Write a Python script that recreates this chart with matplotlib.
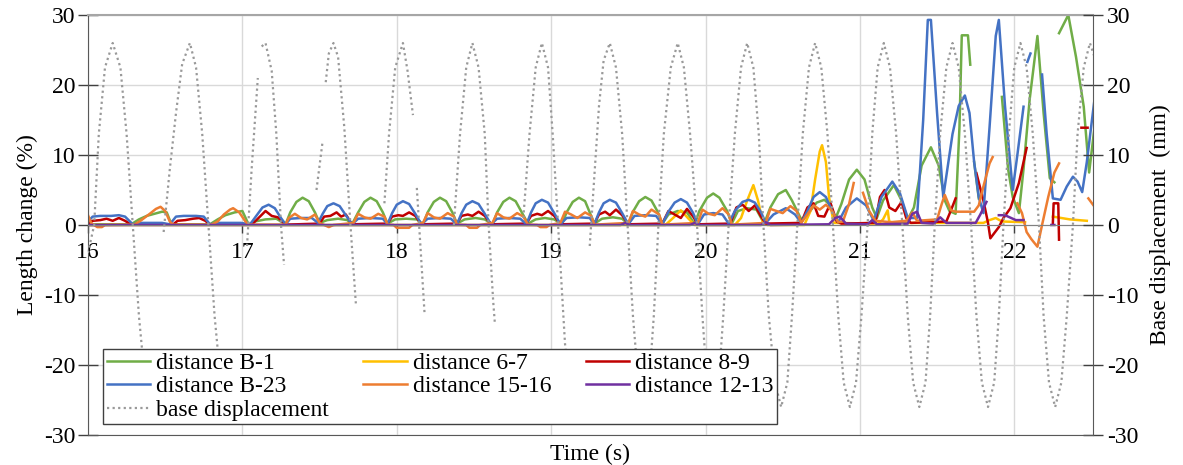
import numpy as np
import matplotlib.pyplot as plt

nan = np.nan

# length change (%) of the measured distances, time in s
b1_t = [
    16.00, 16.28, 16.33, 16.38, 16.43, 16.48, 16.51, 16.54,
    16.79, 16.84, 16.89, 16.95, 17.00, 17.04, 17.08, 17.15, 17.22, 17.28,
    17.31, 17.35, 17.39, 17.43, 17.47, 17.50, 17.55, 17.62, 17.68, 17.71,
    17.75, 17.79, 17.83, 17.87, 17.91, 17.94, 17.99, 18.06, 18.13, 18.17,
    18.20, 18.24, 18.28, 18.32, 18.36, 18.39, 18.44, 18.51, 18.57, 18.62,
    18.65, 18.69, 18.73, 18.77, 18.81, 18.85, 18.90, 18.96, 19.02, 19.07,
    19.10, 19.14, 19.18, 19.22, 19.25, 19.28, 19.33, 19.40, 19.46, 19.50,
    19.53, 19.57, 19.61, 19.65, 19.69, 19.72, 19.76, 19.82, 19.88, 19.93,
    19.96, 20.01, 20.05, 20.09, 20.14, 20.17, 20.21, 20.27, 20.33, 20.38,
    20.42, 20.47, 20.52, 20.56, 20.62, 20.66, 20.72, 20.77, 20.81, 20.84,
    20.88, 20.93, 20.98, 21.03, 21.08, 21.11, 21.15, 21.22, 21.27, 21.31,
    21.35, 21.40, 21.46, 21.51, 21.55, 21.58, 21.62, 21.645, 21.66, 21.70,
    21.715, 21.72, 21.74, 21.77, 21.78, 21.92, 21.96, 21.99, 22.03, 22.06,
    22.10, 22.15, 22.19, 22.23, 22.26, 22.27, 22.29, 22.35, 22.40, 22.45,
    22.485, 22.52]
b1_pct = [
    0.1, 0.1, 0.8, 1.3, 1.6, 1.9, 1.8, 0.1,
    0.1, 0.8, 1.4, 1.8, 2.0, 0.1, 0.5, 0.8, 0.9, 0.1,
    1.8, 3.3, 3.9, 3.4, 1.8, 0.3, 0.7, 0.9, 0.7, 0.1,
    1.8, 3.3, 3.9, 3.4, 1.8, 0.2, 0.8, 0.9, 0.8, 0.1,
    1.8, 3.3, 3.9, 3.4, 1.8, 0.2, 0.8, 1.0, 0.8, 0.1,
    1.8, 3.3, 3.9, 3.4, 1.8, 0.2, 0.8, 1.0, 0.8, 0.1,
    1.8, 3.3, 3.9, 3.4, 1.8, 0.2, 0.9, 1.1, 0.9, 0.1,
    1.9, 3.4, 4.0, 3.5, 1.9, 0.2, 1.5, 2.0, 1.8, 0.1,
    2.0, 3.9, 4.5, 3.9, 2.0, 0.2, 2.0, 2.4, 2.2, 0.2,
    2.5, 4.4, 5.0, 3.5, 0.8, 1.5, 3.2, 3.6, 2.8, 0.8,
    3.0, 6.5, 7.9, 6.5, 2.5, 1.0, 3.5, 5.7, 3.5, 0.8,
    2.5, 8.5, 11.1, 8.5, 3.5, 2.0, 1.6, 14.0, 27.1, 27.1,
    22.9, nan, 9.0, 3.8, nan, 18.3, 8.0, 4.0, 1.7, 8.0,
    18.0, 27.0, 16.0, 6.7, 6.1, nan, 27.4, 30.0, 24.0, 16.9,
    7.5, 14.0]

d67_t = [
    16.00, 19.74, 19.79, 19.84, 19.89, 19.93, 20.19, 20.23, 20.27, 20.31,
    20.34, 20.37, 20.40, 20.64, 20.68, 20.71, 20.74, 20.755, 20.78, 20.80,
    20.83, 21.12, 21.15, 21.18, 21.19, 21.22, 21.80, 21.84, 21.88, 21.92,
    22.07, 22.08, 22.25, 22.36, 22.47]
d67_pct = [
    0.0, 0.0, 1.0, 2.1, 0.9, 0.0, 0.0, 1.0, 3.5, 5.7,
    3.5, 0.5, 0.0, 0.0, 2.0, 6.5, 10.5, 11.4, 9.0, 4.0,
    0.3, 0.2, 0.8, 2.1, 0.5, 0.3, 0.3, 0.7, 1.0, 0.5,
    0.4, nan, 1.2, 0.8, 0.6]

d89_t = [
    16.00, 16.03, 16.08, 16.12, 16.16, 16.20, 16.24, 16.28, 16.55, 16.58,
    16.63, 16.68, 16.72, 16.76, 16.79, 17.06, 17.10, 17.15, 17.19, 17.23,
    17.28, 17.50, 17.53, 17.57, 17.61, 17.64, 17.67, 17.71, 17.94, 17.97,
    18.01, 18.04, 18.08, 18.12, 18.16, 18.39, 18.42, 18.46, 18.49, 18.53,
    18.57, 18.61, 18.84, 18.87, 18.91, 18.94, 18.98, 19.02, 19.06, 19.28,
    19.31, 19.35, 19.38, 19.42, 19.46, 19.50, 19.72, 19.76, 19.80, 19.84,
    19.88, 19.92, 19.95, 20.16, 20.20, 20.24, 20.28, 20.32, 20.36, 20.39,
    20.62, 20.66, 20.70, 20.73, 20.77, 20.81, 20.85, 20.88, 21.10, 21.13,
    21.16, 21.19, 21.23, 21.27, 21.30, 21.33, 21.56, 21.59, 21.62, 21.63,
    21.755, 21.80, 21.83, 21.845, 21.90, 21.93, 21.975, 22.03, 22.08, 22.09,
    22.25, 22.255, 22.285, 22.29, 22.30, 22.435, 22.475]
d89_pct = [
    0.2, 0.6, 0.7, 0.9, 0.6, 1.0, 0.6, 0.05, 0.05, 0.6,
    0.7, 0.9, 1.0, 0.6, 0.05, 0.05, 0.9, 2.0, 1.3, 1.1,
    0.05, 0.2, 1.2, 1.3, 1.8, 1.2, 1.5, 0.1, 0.2, 1.2,
    1.4, 1.3, 1.8, 1.3, 0.1, 0.2, 1.3, 1.5, 1.3, 1.9,
    1.3, 0.1, 0.2, 1.3, 1.6, 1.4, 2.0, 1.3, 0.1, 0.2,
    1.5, 1.9, 1.4, 2.2, 1.4, 0.1, 0.2, 2.0, 1.5, 1.0,
    2.3, 1.2, 0.1, 0.2, 2.5, 2.9, 2.0, 2.8, 1.2, 0.2,
    0.3, 2.5, 3.1, 1.3, 1.2, 3.1, 0.5, 0.2, 0.3, 4.0,
    5.0, 2.5, 2.0, 3.3, 1.0, 0.3, 0.5, 2.1, 3.8, nan,
    7.4, 3.5, 0.3, -1.9, -0.3, 1.0, 2.4, 6.0, 11.0, nan,
    0.3, 3.1, 3.1, -2.1, nan, 13.9, 13.9]

b23_t = [
    16.00, 16.03, 16.08, 16.15, 16.20, 16.24, 16.29, 16.35, 16.48, 16.53,
    16.57, 16.62, 16.70, 16.75, 16.79, 16.85, 16.99, 17.05, 17.09, 17.13,
    17.17, 17.21, 17.25, 17.28, 17.31, 17.38, 17.45, 17.49, 17.52, 17.55,
    17.59, 17.63, 17.67, 17.71, 17.75, 17.83, 17.91, 17.94, 17.97, 18.00,
    18.04, 18.08, 18.12, 18.16, 18.20, 18.28, 18.35, 18.39, 18.42, 18.45,
    18.49, 18.53, 18.57, 18.61, 18.65, 18.73, 18.80, 18.84, 18.87, 18.90,
    18.94, 18.98, 19.02, 19.06, 19.10, 19.18, 19.25, 19.28, 19.31, 19.34,
    19.38, 19.42, 19.46, 19.50, 19.54, 19.61, 19.68, 19.72, 19.76, 19.80,
    19.84, 19.88, 19.92, 19.95, 19.99, 20.05, 20.11, 20.15, 20.19, 20.24,
    20.28, 20.32, 20.36, 20.39, 20.44, 20.52, 20.58, 20.62, 20.66, 20.70,
    20.74, 20.78, 20.82, 20.86, 20.91, 20.98, 21.04, 21.09, 21.14, 21.21,
    21.26, 21.31, 21.37, 21.41, 21.44, 21.46, 21.50, 21.54, 21.56, 21.60,
    21.64, 21.68, 21.71, 21.74, 21.77, 21.80, 21.84, 21.88, 21.90, 21.94,
    21.99, 22.02, 22.06, 22.07, 22.085, 22.105, 22.11, 22.18, 22.21, 22.25,
    22.30, 22.34, 22.38, 22.41, 22.44, 22.47, 22.52]
b23_pct = [
    0.5, 1.2, 1.3, 1.3, 1.4, 1.2, 0.1, 0.3, 0.3, 0.1,
    1.2, 1.3, 1.3, 1.2, 0.1, 0.3, 0.3, 0.1, 1.3, 2.5,
    2.9, 2.4, 1.0, 0.1, 0.9, 1.0, 1.0, 0.3, 1.6, 2.7,
    3.1, 2.7, 1.4, 0.1, 0.9, 1.0, 0.9, 0.1, 1.7, 2.9,
    3.4, 3.0, 1.6, 0.1, 0.9, 1.0, 0.9, 0.1, 1.7, 2.9,
    3.4, 3.0, 1.6, 0.1, 0.9, 1.0, 0.9, 0.1, 1.8, 3.1,
    3.6, 3.2, 1.7, 0.1, 1.0, 1.1, 1.0, 0.1, 1.8, 3.1,
    3.6, 3.2, 1.7, 0.1, 1.3, 1.4, 1.3, 0.1, 1.9, 3.2,
    3.7, 3.2, 1.7, 0.1, 1.5, 1.7, 1.5, 0.2, 2.0, 3.3,
    3.6, 3.2, 1.8, 0.3, 1.5, 2.4, 1.5, 0.3, 2.0, 4.0,
    4.7, 4.0, 2.0, 0.4, 2.5, 3.8, 2.8, 0.6, 4.0, 6.2,
    4.5, 1.0, 1.0, 15.0, 29.3, 29.3, 16.0, 4.0, 7.0, 13.0,
    17.0, 18.5, 16.0, 9.0, 4.0, 1.7, 14.0, 27.0, 29.3, 17.0,
    5.0, 10.0, 16.9, nan, 23.3, 24.5, nan, 21.5, 13.0, 3.8,
    3.6, 5.5, 6.9, 6.2, 4.7, 9.0, 18.0]

d1516_t = [
    16.00, 16.02, 16.04, 16.06, 16.09, 16.11, 16.30, 16.34, 16.40, 16.44,
    16.47, 16.50, 16.53, 16.55, 16.80, 16.84, 16.88, 16.92, 16.94, 16.98,
    17.02, 17.04, 17.28, 17.30, 17.34, 17.38, 17.42, 17.47, 17.50, 17.53,
    17.56, 17.59, 17.72, 17.75, 17.79, 17.83, 17.88, 17.92, 17.94, 17.98,
    18.00, 18.08, 18.10, 18.17, 18.20, 18.24, 18.28, 18.33, 18.37, 18.39,
    18.45, 18.47, 18.52, 18.54, 18.62, 18.65, 18.69, 18.73, 18.78, 18.82,
    18.85, 18.91, 18.93, 18.97, 18.99, 19.06, 19.09, 19.13, 19.17, 19.22,
    19.26, 19.28, 19.50, 19.53, 19.57, 19.61, 19.65, 19.70, 19.72, 19.95,
    19.98, 20.02, 20.06, 20.11, 20.15, 20.17, 20.39, 20.42, 20.46, 20.50,
    20.55, 20.59, 20.62, 20.66, 20.70, 20.74, 20.78, 20.82, 20.86, 20.89,
    20.93, 20.96, 20.99, 21.02, 21.06, 21.10, 21.20, 21.30, 21.34, 21.37,
    21.50, 21.53, 21.55, 21.59, 21.62, 21.74, 21.77, 21.80, 21.84, 21.86,
    21.87, 22.02, 22.05, 22.08, 22.11, 22.15, 22.18, 22.22, 22.26, 22.29,
    22.30, 22.48, 22.52]
d1516_pct = [
    1.4, 0.3, 0.0, -0.3, -0.3, 0.0, 0.05, 0.6, 1.6, 2.3,
    2.6, 2.0, 0.5, 0.05, 0.05, 0.5, 1.5, 2.2, 2.4, 1.8,
    0.5, 0.05, 0.05, 1.0, 1.6, 1.0, 0.8, 1.5, 0.3, 0.0,
    -0.3, 0.0, 0.3, 1.6, 1.1, 0.9, 1.6, 1.2, 0.05, 0.0,
    -0.4, -0.4, 0.0, 0.3, 1.7, 1.1, 0.9, 1.7, 1.2, 0.05,
    0.0, -0.4, -0.4, 0.0, 0.3, 1.7, 1.1, 0.9, 1.7, 1.2,
    0.05, 0.0, -0.3, -0.3, 0.0, 0.3, 1.9, 1.5, 1.0, 1.8,
    1.3, 0.05, 0.3, 2.0, 1.5, 1.2, 2.2, 1.5, 0.05, 0.3,
    2.2, 1.6, 1.4, 2.4, 1.5, 0.05, 0.3, 2.3, 2.0, 1.7,
    2.7, 2.0, 0.3, 1.5, 2.8, 2.2, 2.9, 2.0, 0.4, 0.5,
    3.0, 6.0, nan, 4.6, 2.0, 0.6, 0.4, 0.6, 1.8, 0.6,
    0.8, 3.0, 4.3, 2.1, 1.9, 1.9, 2.8, 5.5, 8.8, 9.7,
    nan, 3.1, 1.7, -1.0, -2.0, -3.1, 0.0, 4.0, 7.5, 8.8,
    nan, 3.8, 2.6]

d1213_t = [
    16.00, 19.45, 19.48, 19.51, 19.90, 19.93, 19.96, 20.36, 20.39, 20.42,
    20.80, 20.84, 20.87, 20.91, 21.05, 21.08, 21.11, 21.31, 21.34, 21.37,
    21.40, 21.48, 21.52, 21.56, 21.75, 21.78, 21.82, 21.83, 21.90, 21.94,
    21.98, 22.01, 22.06, 22.07, 22.24, 22.26]
d1213_pct = [
    0.0, 0.0, 0.3, 0.0, 0.0, 0.3, 0.0, 0.0, 0.4, 0.0,
    0.1, 1.0, 1.2, 0.2, 0.1, 0.7, 0.1, 0.2, 1.6, 1.9,
    0.3, 0.2, 1.1, 0.3, 0.3, 1.5, 3.3, nan, 1.4, 1.4,
    1.0, 0.7, 0.7, nan, 0.0, 0.0]

# base displacement (mm), with the dropouts of the record left as gaps
base_t = [
    16.00, 16.04, 16.07, 16.11, 16.16, 16.21, 16.25, 16.29, 16.33, 16.37, 16.38,
    16.49, 16.53, 16.57, 16.61, 16.66, 16.70, 16.74, 16.78, 16.82, 16.86, 16.87,
    17.03, 17.06, 17.10, 17.11, 17.125, 17.15, 17.19, 17.22, 17.25, 17.27, 17.28,
    17.48, 17.52, 17.53, 17.54, 17.56, 17.59, 17.62, 17.66, 17.70, 17.735, 17.74,
    17.92, 17.95, 17.99, 18.04, 18.07, 18.105, 18.11, 18.13, 18.18, 18.19,
    18.37, 18.41, 18.45, 18.49, 18.53, 18.57, 18.595, 18.625, 18.635, 18.64,
    18.82, 18.86, 18.90, 18.94, 18.98, 19.01, 19.045, 19.09, 19.12, 19.13,
    19.25, 19.28, 19.31, 19.34, 19.38, 19.42, 19.46, 19.495, 19.53, 19.565,
    19.60, 19.635, 19.665, 19.695, 19.73, 19.775, 19.82, 19.86, 19.90, 19.945,
    19.98, 20.01, 20.05, 20.085, 20.115, 20.15, 20.19, 20.23, 20.27, 20.31,
    20.345, 20.375, 20.41, 20.45, 20.49, 20.53, 20.56, 20.595, 20.63, 20.67,
    20.71, 20.75, 20.79, 20.825, 20.86, 20.895, 20.935, 20.975, 21.01, 21.05,
    21.08, 21.115, 21.155, 21.195, 21.235, 21.275, 21.31, 21.345, 21.385, 21.425,
    21.455, 21.485, 21.52, 21.56, 21.60, 21.64, 21.68, 21.72, 21.755, 21.79,
    21.83, 21.87, 21.90, 21.93, 21.965, 22.00, 22.04, 22.08, 22.12, 22.16,
    22.19, 22.225, 22.265, 22.305, 22.34, 22.38, 22.41, 22.45, 22.49, 22.52]
base_mm = [
    -4, 0, 13, 22.5, 26, 22.5, 13, 0, -13, -22.5, nan,
    -1, 8, 16, 23, 26, 22.5, 13, 0, -13, -22.5, nan,
    -3, 8, 21, nan, 25.5, 26, 22, 13, 0, -5.7, nan,
    5, 12, nan, 20.4, 24.5, 26, 24, 14, 0, -11.2, nan,
    3.1, 13, 22.5, 26, 22, 15.7, nan, 5.3, -12.6, nan,
    0, 13, 22.5, 26, 22.5, 13, 0, -11, -13.9, nan,
    1, 13, 22.5, 26, 22.5, 13, 0, -17, -23, nan,
    -3, 7, 17, 23.5, 26, 22.5, 13, 0, -13, -22.5,
    -26, -22.5, -13, 0, 13, 22.5, 26, 22.5, 13, 0,
    -13, -22.5, -26, -22.5, -13, 0, 13, 22.5, 26, 22.5,
    13, 0, -13, -22.5, -26, -22.5, -13, 0, 13, 22.5,
    26, 22.5, 13, 0, -13, -22.5, -26, -22.5, -13, 0,
    13, 22.5, 26, 22.5, 13, 0, -13, -22.5, -26, -22.5,
    -13, 0, 13, 22.5, 26, 22.5, 13, 0, -13, -22.5,
    -26, -22.5, -13, 0, 13, 22.5, 26, 22.5, 13, 0,
    -13, -22.5, -26, -22.5, -13, 0, 13, 22.5, 26, 24]

x_ticks = [16, 17, 18, 19, 20, 21, 22]
y_ticks = [-30, -20, -10, 0, 10, 20, 30]

plt.rcParams['font.family'] = ['Liberation Serif', 'DejaVu Serif']
plt.rcParams['font.size'] = 17
plt.rcParams['axes.unicode_minus'] = False

fig = plt.figure(figsize=(11.83, 4.65), dpi=100)
ax = fig.add_axes([88 / 1183, 30 / 465, 1005 / 1183, 420 / 465])
ax2 = ax.twinx()

lw = 1.8
h_b1, = ax.plot(b1_t, b1_pct, color='#70ad47', lw=lw, label='distance B-1')
h_67, = ax.plot(d67_t, d67_pct, color='#ffc000', lw=lw, label='distance 6-7')
h_89, = ax.plot(d89_t, d89_pct, color='#c00000', lw=lw, label='distance 8-9')
h_b23, = ax.plot(b23_t, b23_pct, color='#4472c4', lw=lw, label='distance B-23')
h_1516, = ax.plot(d1516_t, d1516_pct, color='#ed7d31', lw=lw, label='distance 15-16')
h_1213, = ax.plot(d1213_t, d1213_pct, color='#7030a0', lw=lw, label='distance 12-13')
h_base, = ax2.plot(base_t, base_mm, color='#999999', lw=1.6,
                   linestyle=(0, (1.0, 1.5)), label='base displacement')

for a in (ax, ax2):
    a.set_xlim(16, 22.51)
    a.set_ylim(-30, 30)
    a.set_yticks(y_ticks)

ax.set_xticks(x_ticks)
ax.grid(True, color='#d9d9d9', lw=1)
ax.set_axisbelow(True)

# horizontal axis crosses at zero, frame lines at the top and bottom
ax.spines['bottom'].set_position(('data', 0))
ax.spines['bottom'].set_color('#808080')
ax.spines['top'].set_color('#a6a6a6')
ax.spines['top'].set_linewidth(1.5)
ax.spines['right'].set_visible(False)
ax.spines['left'].set_color('#595959')
ax2.spines['left'].set_visible(False)
ax2.spines['top'].set_visible(False)
ax2.spines['bottom'].set_color('#595959')
ax2.spines['right'].set_color('#595959')

ax.tick_params(axis='x', direction='out', length=6, width=1, color='#404040', pad=6)
ax.tick_params(axis='y', direction='inout', length=14, width=1, color='#404040', pad=2)
ax2.tick_params(axis='y', direction='inout', length=14, width=1, color='#404040', pad=3)

ax.set_ylabel('Length change (%)', labelpad=4)
ax2.set_ylabel('Base displacement  (mm)', labelpad=8)
ax.set_xlabel('Time (s)')
ax.xaxis.set_label_coords(0.5, -0.02)

handles = [h_b1, h_b23, h_base, h_67, h_1516, h_89, h_1213]
leg = ax2.legend(handles=handles, labels=[h.get_label() for h in handles],
                 ncol=3, loc='upper left', bbox_to_anchor=(0.015, 0.205),
                 fancybox=False, framealpha=1, edgecolor='#404040',
                 fontsize=17, handlelength=1.85, handletextpad=0.25,
                 columnspacing=1.45, labelspacing=0.08, borderpad=0.15,
                 borderaxespad=0)
leg.get_frame().set_linewidth(1.0)

fig.savefig('out.png', dpi=100)
